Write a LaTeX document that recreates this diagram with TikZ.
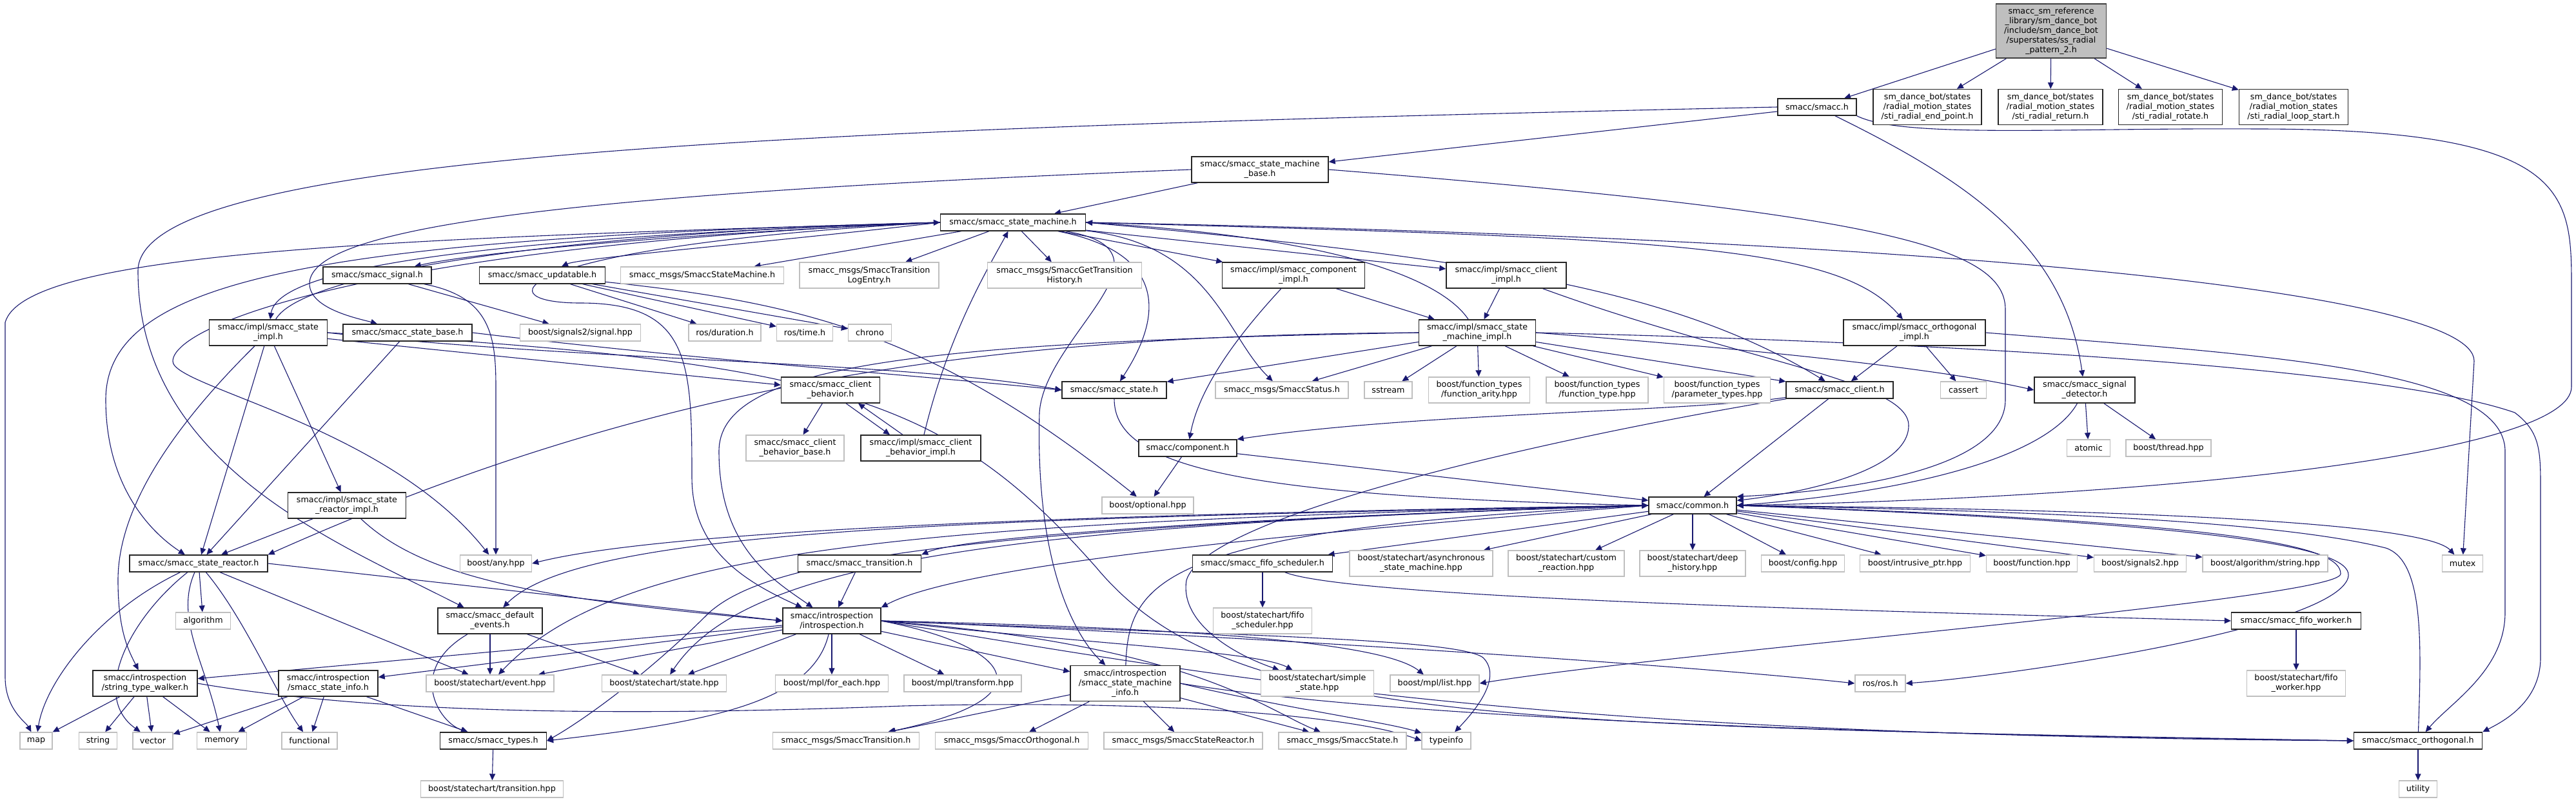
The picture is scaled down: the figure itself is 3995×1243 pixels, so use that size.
\documentclass[tikz,border=0pt]{standalone}
\usepackage{fontspec}
\setmainfont{DejaVu Sans}
\usetikzlibrary{arrows.meta,backgrounds}
\definecolor{edgeblue}{HTML}{191970}
\definecolor{extgray}{HTML}{BFBFBF}
\definecolor{rootgray}{HTML}{BFBFBF}

\begin{document}
\begin{tikzpicture}[
  x=0.5pt,
  y=-0.5pt,
  box/.style={
    rectangle,
    align=center,
    inner sep=1pt,
    fill=white,
    minimum height=13pt,
    font=\fontsize{6.35}{7.5}\selectfont
  },
  hdr/.style={box, draw=black!85, line width=0.7pt},
  ext/.style={box, draw=extgray, line width=0.7pt},
  cur/.style={box, draw=black!75, fill=rootgray, line width=0.7pt},
  two/.style={minimum height=20pt},
  three/.style={minimum height=27.5pt},
  inc/.style={-{Triangle[length=5pt,width=4.5pt]}, draw=edgeblue, line width=0.55pt}
]
\node[cur, minimum width=85.5pt, minimum height=42pt] (root) at (3181,48) {smacc\_sm\_reference\\\_library/sm\_dance\_bot\\/include/sm\_dance\_bot\\/superstates/ss\_radial\\\_pattern\_2.h};

\node[hdr, minimum width=61pt] (smacch) at (2818,166) {smacc/smacc.h};
\node[hdr, three, minimum width=84pt] (endpt) at (2989,166) {sm\_dance\_bot/states\\/radial\_motion\_states\\/sti\_radial\_end\_point.h};
\node[hdr, three, minimum width=81pt] (radret) at (3180,166) {sm\_dance\_bot/states\\/radial\_motion\_states\\/sti\_radial\_return.h};
\node[hdr, three, minimum width=80.5pt] (radrot) at (3366,166) {sm\_dance\_bot/states\\/radial\_motion\_states\\/sti\_radial\_rotate.h};
\node[hdr, three, minimum width=84.5pt] (loopst) at (3557,166) {sm\_dance\_bot/states\\/radial\_motion\_states\\/sti\_radial\_loop\_start.h};

\node[hdr, two, minimum width=106pt] (smbase) at (1954,263) {smacc/smacc\_state\_machine\\\_base.h};
\node[hdr, minimum width=112.5pt] (sm) at (1571,345) {smacc/smacc\_state\_machine.h};

\node[hdr, minimum width=84pt] (signal) at (585,427) {smacc/smacc\_signal.h};
\node[hdr, minimum width=97.5pt] (updatable) at (841,427) {smacc/smacc\_updatable.h};
\node[ext, minimum width=126.5pt] (msgsm) at (1089,427) {smacc\_msgs/SmaccStateMachine.h};
\node[ext, two, minimum width=108pt] (msgtle) at (1348,427) {smacc\_msgs/SmaccTransition\\LogEntry.h};
\node[ext, two, minimum width=119.5pt] (msggth) at (1651,427) {smacc\_msgs/SmaccGetTransition\\History.h};
\node[hdr, two, minimum width=110.5pt] (compimpl) at (2006,427) {smacc/impl/smacc\_component\\\_impl.h};
\node[hdr, two, minimum width=93pt] (clientimpl) at (2336,427) {smacc/impl/smacc\_client\\\_impl.h};

\node[hdr, two, minimum width=91.5pt] (stateimpl) at (416,516) {smacc/impl/smacc\_state\\\_impl.h};
\node[hdr, minimum width=100pt] (statebase) at (632,516) {smacc/smacc\_state\_base.h};
\node[ext, minimum width=93.5pt] (sigtwo) at (900,516) {boost/signals2/signal.hpp};
\node[ext, minimum width=56pt] (duration) at (1124,516) {ros/duration.h};
\node[ext, minimum width=43.5pt] (rostime) at (1248,516) {ros/time.h};
\node[ext, minimum width=33.5pt] (chrono) at (1349,516) {chrono};
\node[hdr, two, minimum width=90.5pt] (smimpl) at (2291,516) {smacc/impl/smacc\_state\\\_machine\_impl.h};
\node[hdr, two, minimum width=110pt] (orthimpl) at (2969,516) {smacc/impl/smacc\_orthogonal\\\_impl.h};

\node[hdr, two, minimum width=76.5pt] (cbh) at (1288,605) {smacc/smacc\_client\\\_behavior.h};
\node[hdr, minimum width=81pt] (stateh) at (1728,605) {smacc/smacc\_state.h};
\node[ext, minimum width=103pt] (msgstatus) at (1988,605) {smacc\_msgs/SmaccStatus.h};
\node[ext, minimum width=37pt] (sstream) at (2153,605) {sstream};
\node[ext, two, minimum width=78.5pt] (farity) at (2294,605) {boost/function\_types\\/function\_arity.hpp};
\node[ext, two, minimum width=79pt] (ftype) at (2477,605) {boost/function\_types\\/function\_type.hpp};
\node[ext, two, minimum width=82.5pt] (ptypes) at (2663,605) {boost/function\_types\\/parameter\_types.hpp};
\node[hdr, minimum width=83pt] (clienth) at (2853,605) {smacc/smacc\_client.h};
\node[ext, minimum width=35.5pt] (cassert) at (3045,605) {cassert};
\node[hdr, two, minimum width=78pt] (sigdet) at (3233,605) {smacc/smacc\_signal\\\_detector.h};

\node[ext, two, minimum width=76pt] (cbbase) at (1233,695) {smacc/smacc\_client\\\_behavior\_base.h};
\node[hdr, two, minimum width=93pt] (cbimpl) at (1428,695) {smacc/impl/smacc\_client\\\_behavior\_impl.h};
\node[hdr, minimum width=76pt] (component) at (1842,695) {smacc/component.h};
\node[ext, minimum width=33.5pt] (atomic) at (3239,695) {atomic};
\node[ext, minimum width=66pt] (thread) at (3363,695) {boost/thread.hpp};

\node[hdr, two, minimum width=91.5pt] (reactimpl) at (538,784) {smacc/impl/smacc\_state\\\_reactor\_impl.h};
\node[ext, minimum width=71pt] (optional) at (1780,784) {boost/optional.hpp};
\node[hdr, minimum width=68pt] (common) at (2625,784) {smacc/common.h};

\node[hdr, minimum width=107pt] (reactor) at (308,874) {smacc/smacc\_state\_reactor.h};
\node[ext, minimum width=55.5pt] (anyhpp) at (769,874) {boost/any.hpp};
\node[hdr, minimum width=95.5pt] (transh) at (1333,874) {smacc/smacc\_transition.h};
\node[hdr, minimum width=108.5pt] (fifosched) at (1958,874) {smacc/smacc\_fifo\_scheduler.h};
\node[ext, two, minimum width=111pt] (async) at (2204,874) {boost/statechart/asynchronous\\\_state\_machine.hpp};
\node[ext, two, minimum width=90pt] (custom) at (2429,874) {boost/statechart/custom\\\_reaction.hpp};
\node[ext, two, minimum width=82pt] (deephist) at (2625,874) {boost/statechart/deep\\\_history.hpp};
\node[ext, minimum width=64.5pt] (config) at (2796,874) {boost/config.hpp};
\node[ext, minimum width=85.5pt] (intrusive) at (2970,874) {boost/intrusive\_ptr.hpp};
\node[ext, minimum width=70.5pt] (function) at (3151,874) {boost/function.hpp};
\node[ext, minimum width=71.5pt] (signalstwo) at (3319,874) {boost/signals2.hpp};
\node[ext, minimum width=97pt] (algstring) at (3513,874) {boost/algorithm/string.hpp};
\node[ext, minimum width=31.5pt] (mutex) at (3819,874) {mutex};

\node[ext, minimum width=42.5pt] (algorithm) at (315,963) {algorithm};
\node[hdr, two, minimum width=81pt] (defevents) at (760,963) {smacc/smacc\_default\\\_events.h};
\node[hdr, two, minimum width=76pt] (intro) at (1290,963) {smacc/introspection\\/introspection.h};
\node[ext, two, minimum width=76.5pt] (fifoschedhpp) at (1958,963) {boost/statechart/fifo\\\_scheduler.hpp};
\node[hdr, minimum width=100.5pt] (fifoworker) at (3561,963) {smacc/smacc\_fifo\_worker.h};

\node[hdr, two, minimum width=81pt] (walker) at (225,1060) {smacc/introspection\\/string\_type\_walker.h};
\node[hdr, two, minimum width=77pt] (stateinfo) at (509,1060) {smacc/introspection\\/smacc\_state\_info.h};
\node[ext, minimum width=99pt] (event) at (760,1060) {boost/statechart/event.hpp};
\node[ext, minimum width=96.5pt] (statehpp) at (1030,1060) {boost/statechart/state.hpp};
\node[ext, minimum width=87.5pt] (foreach) at (1290,1060) {boost/mpl/for\_each.hpp};
\node[ext, minimum width=91pt] (transform) at (1493,1060) {boost/mpl/transform.hpp};
\node[hdr, three, minimum width=85pt] (sminfo) at (1745,1060) {smacc/introspection\\/smacc\_state\_machine\\\_info.h};
\node[ext, two, minimum width=87.5pt] (simple) at (2043,1060) {boost/statechart/simple\\\_state.hpp};
\node[ext, minimum width=69pt] (mpllist) at (2225,1060) {boost/mpl/list.hpp};
\node[ext, minimum width=39pt] (rosh) at (2916,1060) {ros/ros.h};
\node[ext, two, minimum width=76.5pt] (fifoworkerhpp) at (3561,1060) {boost/statechart/fifo\\\_worker.hpp};

\node[ext, minimum width=25pt] (map) at (56,1149) {map};
\node[ext, minimum width=29.5pt] (string) at (152,1149) {string};
\node[ext, minimum width=31pt] (vector) at (237,1149) {vector};
\node[ext, minimum width=38.5pt] (memory) at (344,1149) {memory};
\node[ext, minimum width=43pt] (functional) at (480,1149) {functional};
\node[hdr, minimum width=82.5pt] (types) at (765,1149) {smacc/smacc\_types.h};
\node[ext, minimum width=113.5pt] (msgtrans) at (1312,1149) {smacc\_msgs/SmaccTransition.h};
\node[ext, minimum width=118.5pt] (msgorth) at (1569,1149) {smacc\_msgs/SmaccOrthogonal.h};
\node[ext, minimum width=123pt] (msgreact) at (1835,1149) {smacc\_msgs/SmaccStateReactor.h};
\node[ext, minimum width=99pt] (msgstate) at (2082,1149) {smacc\_msgs/SmaccState.h};
\node[ext, minimum width=38pt] (typeinfo) at (2243,1149) {typeinfo};
\node[hdr, minimum width=99.5pt] (orth) at (3750,1149) {smacc/smacc\_orthogonal.h};

\node[ext, minimum width=110.5pt] (transition) at (763,1224) {boost/statechart/transition.hpp};
\node[ext, minimum width=29.5pt] (utility) at (3750,1224) {utility};

\begin{pgfonlayer}{background}
\fill[white] (0,0) rectangle (3995,1243);
\draw[inc] (root) -- (smacch);
\draw[inc] (root) -- (endpt);
\draw[inc] (root) -- (radret);
\draw[inc] (root) -- (radrot);
\draw[inc] (root) -- (loopst);

\draw[inc] (smacch) -- (smbase);
\draw[inc] (smacch.west) .. controls (1200,200) and (214,240) .. (214,420) .. controls (214,720) and (520,840) .. (defevents);
\draw[inc] (smacch) .. controls (3050,280) and (3201,380) .. (sigdet);
\draw[inc] (smacch.south east) .. controls (2950,215) and (3200,198) .. (3500,200) .. controls (3990,200) and (3988,300) .. (3988,450) -- (3988,600) .. controls (3988,700) and (3400,770) .. (common.east);

\draw[inc] (smbase) -- (sm);
\draw[inc] (smbase.west) .. controls (900,300) and (480,350) .. (480,440) .. controls (480,480) and (560,495) .. (statebase);
\draw[inc] (smbase.east) .. controls (2900,330) and (3110,380) .. (3110,480) -- (3110,620) .. controls (3110,720) and (2900,760) .. (common.north east);

\draw[inc] (sm) -- (msgsm);
\draw[inc] (sm) -- (msgtle);
\draw[inc] (sm) -- (msggth);
\draw[inc] (sm) -- (compimpl);
\draw[inc] (sm) -- (clientimpl);
\draw[inc] (sm) .. controls (1800,390) and (1810,480) .. (stateh);
\draw[inc] (sm) .. controls (1880,380) and (1900,520) .. (msgstatus);
\draw[inc] (sm) .. controls (1840,390) and (1620,520) .. (1612,640) .. controls (1605,900) and (1680,1000) .. (sminfo);
\draw[inc] (sm.east) .. controls (2600,370) and (2850,380) .. (orthimpl);
\draw[inc] (sm.east) .. controls (3000,370) and (3837,450) .. (3837,560) -- (mutex);
\draw[inc] (sm.east) .. controls (2300,400) and (2600,450) .. (clienth);
\draw[inc] (sm.west) .. controls (600,370) and (40,390) .. (8,500) -- (8,1050) .. controls (8,1100) and (40,1120) .. (map);
\draw[inc] (sm.west) .. controls (700,370) and (430,420) .. (stateimpl);
\draw[inc] (sm.west) .. controls (1000,365) and (720,395) .. (signal);
\draw[inc] (sm.west) .. controls (1200,375) and (900,400) .. (updatable);
\draw[inc] (sm.west) .. controls (500,370) and (164,430) .. (164,620) .. controls (164,760) and (240,830) .. (reactor);
\draw[inc] (sm.west) .. controls (600,380) and (270,500) .. (268,560) .. controls (266,600) and (600,660) .. (anyhpp);
\draw[inc] (sm.west) .. controls (800,380) and (740,470) .. (900,470) .. controls (1070,470) and (1073,560) .. (1073,740) .. controls (1073,850) and (1150,900) .. (intro);

\draw[inc] (stateimpl) .. controls (470,420) and (900,360) .. (sm.west);
\draw[inc] (stateimpl) .. controls (250,680) and (183,800) .. (183,900) .. controls (183,980) and (200,1010) .. (walker);
\draw[inc] (stateimpl) -- (reactor);
\draw[inc] (stateimpl) -- (reactimpl);
\draw[inc] (stateimpl) -- (cbh);
\draw[inc] (stateimpl.east) .. controls (900,560) and (1400,560) .. (stateh.west);
\draw[inc] (stateimpl.east) .. controls (1300,560) and (1470,620) .. (1700,880) .. controls (1900,1120) and (2300,1125) .. (orth.west);

\draw[inc] (statebase) -- (reactor);
\draw[inc] (statebase.east) .. controls (1100,560) and (1400,580) .. (stateh.west);

\draw[inc] (signal) -- (sigtwo);
\draw[inc] (signal) .. controls (760,460) and (769,520) .. (769,600) -- (anyhpp);

\draw[inc] (updatable) -- (duration);
\draw[inc] (updatable) -- (rostime);
\draw[inc] (updatable) -- (chrono);
\draw[inc] (updatable) .. controls (1250,470) and (1450,520) .. (optional);

\draw[inc] (compimpl) -- (smimpl);
\draw[inc] (compimpl) .. controls (1920,520) and (1860,600) .. (component);

\draw[inc] (clientimpl) -- (smimpl);
\draw[inc] (clientimpl) .. controls (2700,560) and (2960,590) .. (2960,660) .. controls (2960,740) and (2750,770) .. (common);

\draw[inc] (smimpl) .. controls (2240,440) and (2100,370) .. (sm.east);
\draw[inc] (smimpl) -- (stateh);
\draw[inc] (smimpl) -- (msgstatus);
\draw[inc] (smimpl) -- (sstream);
\draw[inc] (smimpl) -- (farity);
\draw[inc] (smimpl) -- (ftype);
\draw[inc] (smimpl) -- (ptypes);
\draw[inc] (smimpl) -- (clienth);
\draw[inc] (smimpl.east) .. controls (2700,540) and (3000,570) .. (sigdet.west);
\draw[inc] (smimpl.east) .. controls (3000,530) and (3700,570) .. (3900,640) .. controls (3940,670) and (3940,700) .. (3940,760) -- (3940,1020) .. controls (3940,1090) and (3880,1120) .. (orth.north east);
\draw[inc] (smimpl.west) .. controls (1500,520) and (1000,600) .. (reactor.north east);
\draw[inc] (smimpl.west) .. controls (1400,530) and (1115,570) .. (1115,700) .. controls (1115,850) and (1200,900) .. (intro);

\draw[inc] (orthimpl) -- (clienth);
\draw[inc] (orthimpl) -- (cassert);
\draw[inc] (orthimpl.east) .. controls (3500,550) and (3885,570) .. (3885,700) -- (3885,950) .. controls (3885,1040) and (3800,1090) .. (orth);

\draw[inc] (cbh) -- (cbbase);
\draw[inc] ([xshift=12pt]cbh.south) -- ([xshift=-24pt]cbimpl.north);
\draw[inc] ([xshift=-14pt]cbimpl.north) -- ([xshift=21.5pt]cbh.south);
\draw[inc] (cbimpl) .. controls (1470,520) and (1530,420) .. (sm);

\draw[inc] (stateh) .. controls (1728,720) and (1900,770) .. (common.west);

\draw[inc] (sigdet) -- (atomic);
\draw[inc] (sigdet) -- (thread);
\draw[inc] (sigdet) .. controls (3180,700) and (3000,760) .. (common.east);

\draw[inc] (clienth) -- (common);
\draw[inc] (clienth) .. controls (2600,640) and (2200,640) .. (component.north east);
\draw[inc] (clienth) .. controls (2400,680) and (1870,800) .. (1840,900) .. controls (1830,960) and (1900,1010) .. (simple);

\draw[inc] (component) -- (optional);
\draw[inc] (component) -- (common);

\draw[inc] (reactimpl) -- (reactor);
\draw[inc] (reactimpl) .. controls (660,900) and (850,930) .. (intro.west);

\draw[inc] (common) -- (fifosched);
\draw[inc] (common) -- (async);
\draw[inc] (common) -- (custom);
\draw[inc] (common) -- (deephist);
\draw[inc] (common) -- (config);
\draw[inc] (common) -- (intrusive);
\draw[inc] (common) -- (function);
\draw[inc] (common) -- (signalstwo);
\draw[inc] (common) -- (algstring);
\draw[inc] (common.east) .. controls (3300,790) and (3760,810) .. (mutex);
\draw[inc] (common.west) .. controls (1500,800) and (1000,830) .. (anyhpp.east);
\draw[inc] (common.west) .. controls (2000,800) and (1500,830) .. (transh.north east);
\draw[inc] (common.west) .. controls (2100,820) and (1500,870) .. (intro.north east);
\draw[inc] (common.west) .. controls (1500,805) and (900,820) .. (defevents);
\draw[inc] (common.west) .. controls (1400,810) and (960,850) .. (event);
\draw[inc] (common.west) .. controls (1500,815) and (1150,880) .. (statehpp);
\draw[inc] (common.west) .. controls (1400,820) and (1180,880) .. (1100,950) .. controls (1000,1050) and (900,1120) .. (types.east);
\draw[inc] (common.east) .. controls (3500,810) and (3630,850) .. (3630,890) .. controls (3630,930) and (2600,1010) .. (mpllist.east);
\draw[inc] (common.east) .. controls (3550,815) and (3660,860) .. (3640,900) .. controls (3600,980) and (3100,1050) .. (rosh.east);

\draw[inc] (orth) .. controls (3755,1000) and (3760,870) .. (3700,850) .. controls (3500,800) and (3000,790) .. (common.east);
\draw[inc] (orth) -- (utility);

\draw[inc] (reactor) .. controls (150,950) and (70,1060) .. (map);
\draw[inc] (reactor) .. controls (200,960) and (140,1080) .. (vector);
\draw[inc] (reactor) .. controls (270,960) and (320,1030) .. (memory);
\draw[inc] (reactor) -- (algorithm);
\draw[inc] (reactor) .. controls (380,960) and (430,1080) .. (functional);
\draw[inc] (reactor) -- (event);
\draw[inc] (reactor.east) -- (intro.west);

\draw[inc] (transh) -- (intro);
\draw[inc] (fifosched) -- (fifoschedhpp);
\draw[inc] (fifosched) .. controls (2100,930) and (3000,950) .. (fifoworker.west);
\draw[inc] (fifoworker) -- (fifoworkerhpp);

\draw[inc] (defevents) -- (event);
\draw[inc] (defevents) -- (statehpp);
\draw[inc] (defevents) .. controls (630,1040) and (680,1120) .. (types);

\draw[inc] (intro) -- (walker);
\draw[inc] (intro) -- (stateinfo);
\draw[inc] (intro) -- (event);
\draw[inc] (intro) -- (statehpp);
\draw[inc] (intro) -- (foreach);
\draw[inc] (intro) -- (transform);
\draw[inc] (intro) -- (sminfo);
\draw[inc] (intro.east) .. controls (1700,1000) and (1950,1010) .. (simple);
\draw[inc] (intro.east) .. controls (1900,975) and (2150,1000) .. (mpllist);
\draw[inc] (intro) .. controls (1260,1090) and (1100,1120) .. (types.east);
\draw[inc] (intro.east) .. controls (1560,1000) and (1640,1080) .. (msgtrans);
\draw[inc] (intro.east) .. controls (1850,1000) and (1960,1100) .. (msgstate);
\draw[inc] (intro.east) .. controls (1900,985) and (2260,990) .. (2300,1020) .. controls (2330,1050) and (2290,1100) .. (typeinfo);
\draw[inc] (intro.east) .. controls (1900,985) and (2600,1030) .. (rosh.west);
\draw[inc] (intro.east) .. controls (1950,1060) and (2400,1140) .. (orth.west);

\draw[inc] (sminfo) -- (msgtrans);
\draw[inc] (sminfo) -- (msgorth);
\draw[inc] (sminfo) -- (msgreact);
\draw[inc] (sminfo) -- (msgstate);
\draw[inc] (sminfo.east) .. controls (2000,1100) and (2150,1120) .. (typeinfo);
\draw[inc] (sminfo.east) .. controls (2200,1120) and (3000,1140) .. (orth.west);
\draw[inc] (sminfo) .. controls (1750,900) and (1800,820) .. (common.west);

\draw[inc] (walker) -- (map);
\draw[inc] (walker) -- (string);
\draw[inc] (walker) -- (vector);
\draw[inc] (walker) -- (memory);
\draw[inc] (walker.east) .. controls (600,1110) and (1000,1110) .. (1400,1095) .. controls (1800,1085) and (2100,1110) .. (typeinfo.west);

\draw[inc] (stateinfo) -- (vector);
\draw[inc] (stateinfo) -- (memory);
\draw[inc] (stateinfo) -- (functional);
\draw[inc] (stateinfo) -- (types);

\draw[inc] (types) -- (transition);
\end{pgfonlayer}
\useasboundingbox (0,0) rectangle (3995,1243);
\end{tikzpicture}
\end{document}
